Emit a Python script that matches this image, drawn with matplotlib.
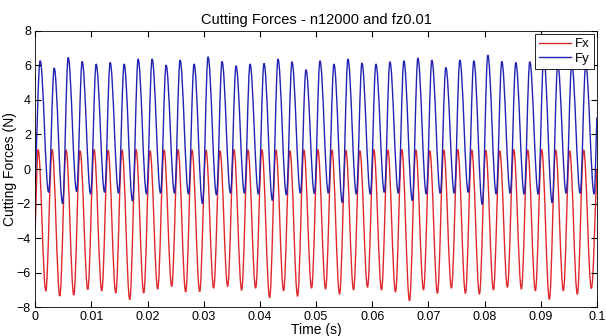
import numpy as np
import matplotlib
matplotlib.use("Agg")
import matplotlib.pyplot as plt
from matplotlib.path import Path
from matplotlib.patches import PathPatch
from matplotlib.lines import Line2D

plt.rcParams['font.family'] = ['Liberation Sans', 'DejaVu Sans']

# tooth passing period (s) and first extremum times
period = 0.00249
fx_peak_t0 = 0.00053
fx_trough_t0 = 0.0019
fy_peak_t0 = 0.0009
fy_trough_t0 = 0.0024

# per-cycle extrema (N), 40 cycles
fx_peaks = [1.12, 1.12, 1.10, 1.05, 1.12, 1.08, 1.10, 1.12, 1.05, 1.10,
            1.12, 1.10, 1.08, 1.05, 1.12, 1.10, 1.12, 1.10, 1.05, 1.10,
            1.12, 1.10, 1.08, 1.05, 1.12, 1.10, 1.12, 1.10, 1.05, 1.10,
            1.12, 1.10, 1.08, 1.05, 1.12, 1.10, 1.12, 1.10, 1.05, 1.10]
fx_troughs = [-7.06, -7.35, -7.30, -6.98, -7.06, -7.18, -7.56, -7.18, -6.95, -6.80,
              -7.12, -7.10, -6.90, -6.80, -7.02, -6.90, -7.45, -7.05, -7.37, -6.90,
              -6.95, -7.25, -7.00, -6.85, -7.00, -7.12, -7.63, -7.00, -7.20, -6.90,
              -7.20, -7.25, -7.00, -6.85, -6.95, -7.05, -7.55, -7.05, -7.25, -6.92]
fy_peaks = [6.27, 5.85, 6.46, 6.23, 6.08, 6.17, 6.08, 6.37, 6.37, 6.02,
            6.31, 6.08, 6.50, 6.23, 5.98, 6.08, 6.12, 6.37, 6.21, 5.75,
            6.27, 6.08, 6.37, 6.14, 6.08, 6.21, 6.27, 6.43, 6.31, 5.88,
            6.31, 6.27, 6.60, 6.23, 6.17, 6.21, 6.50, 6.08, 6.08, 6.04]
fy_troughs = [-1.35, -2.00, -1.30, -1.45, -1.35, -1.40, -1.85, -1.45, -1.40, -1.40,
              -1.45, -2.00, -1.50, -1.40, -1.40, -1.45, -1.82, -1.50, -1.40, -1.42,
              -1.40, -1.95, -1.45, -1.45, -1.35, -1.40, -1.82, -1.45, -1.40, -1.40,
              -1.35, -2.05, -1.45, -1.40, -1.45, -1.45, -1.95, -1.40, -1.40, -1.45]
fx_start, fx_end = -3.5, 0.0
fy_start, fy_end = -0.8, 3.0
t_end = 0.1


def build(peaks, troughs, tp0, tt0, start, end):
    t = [0.0]
    v = [start]
    for k in range(len(peaks)):
        t += [tp0 + k * period, tt0 + k * period]
        v += [peaks[k], troughs[k]]
    t.append(t_end)
    v.append(end)
    return np.array(t), np.array(v)


def smooth_path(t, v):
    # cubic bezier between extrema, flat tangent at each extremum
    verts = [(t[0], v[0])]
    codes = [Path.MOVETO]
    for i in range(1, len(t)):
        dt = (t[i] - t[i - 1]) * 0.36
        c1 = (t[i - 1] + dt, v[i - 1]) if i > 1 else (t[i - 1] + dt, v[i - 1] + (v[i] - v[i - 1]) * 0.36)
        c2 = (t[i] - dt, v[i]) if i < len(t) - 1 else (t[i] - dt, v[i] - (v[i] - v[i - 1]) * 0.36)
        verts += [c1, c2, (t[i], v[i])]
        codes += [Path.CURVE4] * 3
    return Path(verts, codes)


tx, fx = build(fx_peaks, fx_troughs, fx_peak_t0, fx_trough_t0, fx_start, fx_end)
ty, fy = build(fy_peaks, fy_troughs, fy_peak_t0, fy_trough_t0, fy_start, fy_end)

red = '#e0282c'
blue = '#2222b4'

fig = plt.figure(figsize=(6.06, 3.36), dpi=100)
ax = fig.add_axes([0.058, 0.086, 0.927, 0.822])
ax.add_patch(PathPatch(smooth_path(tx, fx), fill=False, edgecolor=red, lw=1.0))
ax.add_patch(PathPatch(smooth_path(ty, fy), fill=False, edgecolor=blue, lw=1.0))

ax.set_xlim(0, 0.1)
ax.set_ylim(-8, 8)
xt = np.arange(0, 0.1001, 0.01)
ax.set_xticks(xt)
ax.set_xticklabels(['0'] + ['%g' % round(v, 2) for v in xt[1:]])
ax.set_yticks(np.arange(-8, 9, 2))
ax.tick_params(direction='in', top=True, right=True, length=4, labelsize=9, pad=3)
for s in ax.spines.values():
    s.set_linewidth(0.6)

ax.set_title('Cutting Forces - n12000 and fz0.01', fontsize=10.5, pad=5)
ax.set_xlabel('Time (s)', fontsize=10, labelpad=0)
ax.set_ylabel('Cutting Forces (N)', fontsize=10, labelpad=0)

handles = [Line2D([], [], color=red, lw=1.0), Line2D([], [], color=blue, lw=1.0)]
leg = ax.legend(handles, ['Fx', 'Fy'], loc='upper right', fontsize=9.5, fancybox=False,
                framealpha=1, edgecolor='black', borderaxespad=0.25, handlelength=2.4,
                borderpad=0.3, labelspacing=0.15, handletextpad=0.3)
leg.get_frame().set_linewidth(0.6)

fig.savefig('out.png', dpi=100)
